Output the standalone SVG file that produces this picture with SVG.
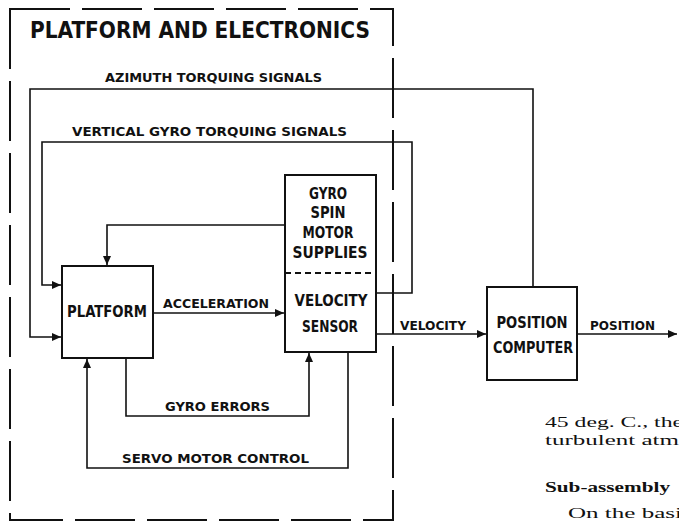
<svg xmlns="http://www.w3.org/2000/svg" width="679" height="523" viewBox="0 0 679 523">
<style>
.box{fill:#fff;stroke:#111;stroke-width:2}
.ln{fill:none;stroke:#111;stroke-width:1.6}
.lbl{font-family:"Liberation Sans Narrow","DejaVu Sans Condensed","Liberation Sans",sans-serif;font-weight:bold;fill:#111}
.sm{font-size:12px}
.bx{font-size:16px;text-anchor:middle}
.body{font-family:"Liberation Serif","DejaVu Serif",serif;font-size:15px;fill:#111}
</style>
<defs>
<marker id="ah" markerUnits="userSpaceOnUse" markerWidth="10" markerHeight="9" refX="9" refY="4" orient="auto">
<path d="M0,0 L9,4 L0,8 z" fill="#111"/>
</marker>
</defs>
<rect x="0" y="0" width="679" height="523" fill="#fff"/>
<g id="boundary">
<rect x="10" y="9" width="383" height="511" fill="none" stroke="#111" stroke-width="2" stroke-dasharray="60 12"/>
<text class="lbl" x="30" y="38" font-size="23" textLength="340" lengthAdjust="spacingAndGlyphs">PLATFORM AND ELECTRONICS</text>
</g>
<g id="connectors">
<path class="ln" d="M533,287 V89 H30 V337 H61" marker-end="url(#ah)"/>
<path class="ln" d="M376,293 H412 V142 H42 V285 H61" marker-end="url(#ah)"/>
<path class="ln" d="M285,225 H107 V265" marker-end="url(#ah)"/>
<path class="ln" d="M153,313 H284" marker-end="url(#ah)"/>
<path class="ln" d="M126,358 V416 H309 V353" marker-end="url(#ah)"/>
<path class="ln" d="M348,352 V468 H87 V359" marker-end="url(#ah)"/>
<path class="ln" d="M376,334 H486" marker-end="url(#ah)"/>
<path class="ln" d="M577,334 H677" marker-end="url(#ah)"/>
<text class="lbl sm" x="105" y="82" textLength="217" lengthAdjust="spacingAndGlyphs">AZIMUTH TORQUING SIGNALS</text>
<text class="lbl sm" x="72" y="136" textLength="275" lengthAdjust="spacingAndGlyphs">VERTICAL GYRO TORQUING SIGNALS</text>
<text class="lbl sm" x="163" y="308" textLength="106" lengthAdjust="spacingAndGlyphs">ACCELERATION</text>
<text class="lbl sm" x="165" y="411" textLength="105" lengthAdjust="spacingAndGlyphs">GYRO ERRORS</text>
<text class="lbl sm" x="122" y="463" textLength="187" lengthAdjust="spacingAndGlyphs">SERVO MOTOR CONTROL</text>
<text class="lbl sm" x="400" y="330" textLength="66" lengthAdjust="spacingAndGlyphs">VELOCITY</text>
<text class="lbl sm" x="590" y="330" textLength="65" lengthAdjust="spacingAndGlyphs">POSITION</text>
</g>
<g id="platform">
<rect class="box" x="62" y="266" width="91" height="92"/>
<text class="lbl bx" x="107" y="317" textLength="80" lengthAdjust="spacingAndGlyphs">PLATFORM</text>
</g>
<g id="gyro-velocity">
<rect class="box" x="285" y="175" width="91" height="177"/>
<line x1="285" y1="273" x2="376" y2="273" stroke="#111" stroke-width="2" stroke-dasharray="6 4"/>
<text class="lbl bx" x="328" y="199" textLength="38" lengthAdjust="spacingAndGlyphs">GYRO</text>
<text class="lbl bx" x="328" y="218" textLength="35" lengthAdjust="spacingAndGlyphs">SPIN</text>
<text class="lbl bx" x="328" y="238" textLength="51" lengthAdjust="spacingAndGlyphs">MOTOR</text>
<text class="lbl bx" x="330" y="258" textLength="75" lengthAdjust="spacingAndGlyphs">SUPPLIES</text>
<text class="lbl bx" x="331" y="306" textLength="73" lengthAdjust="spacingAndGlyphs">VELOCITY</text>
<text class="lbl bx" x="330" y="332" textLength="56" lengthAdjust="spacingAndGlyphs">SENSOR</text>
</g>
<g id="position-computer">
<rect class="box" x="487" y="287" width="90" height="93"/>
<text class="lbl bx" x="532" y="328" textLength="71" lengthAdjust="spacingAndGlyphs">POSITION</text>
<text class="lbl bx" x="533" y="353" textLength="80" lengthAdjust="spacingAndGlyphs">COMPUTER</text>
</g>
<g id="body-text">
<text class="body" x="545" y="427" textLength="138" lengthAdjust="spacingAndGlyphs">45 deg. C., the</text>
<text class="body" x="545" y="445" textLength="134" lengthAdjust="spacingAndGlyphs">turbulent atm</text>
<text class="body" x="545" y="492" font-weight="bold" textLength="125" lengthAdjust="spacingAndGlyphs">Sub-assembly</text>
<text class="body" x="568" y="518" textLength="114" lengthAdjust="spacingAndGlyphs">On the basi</text>
</g>
</svg>
